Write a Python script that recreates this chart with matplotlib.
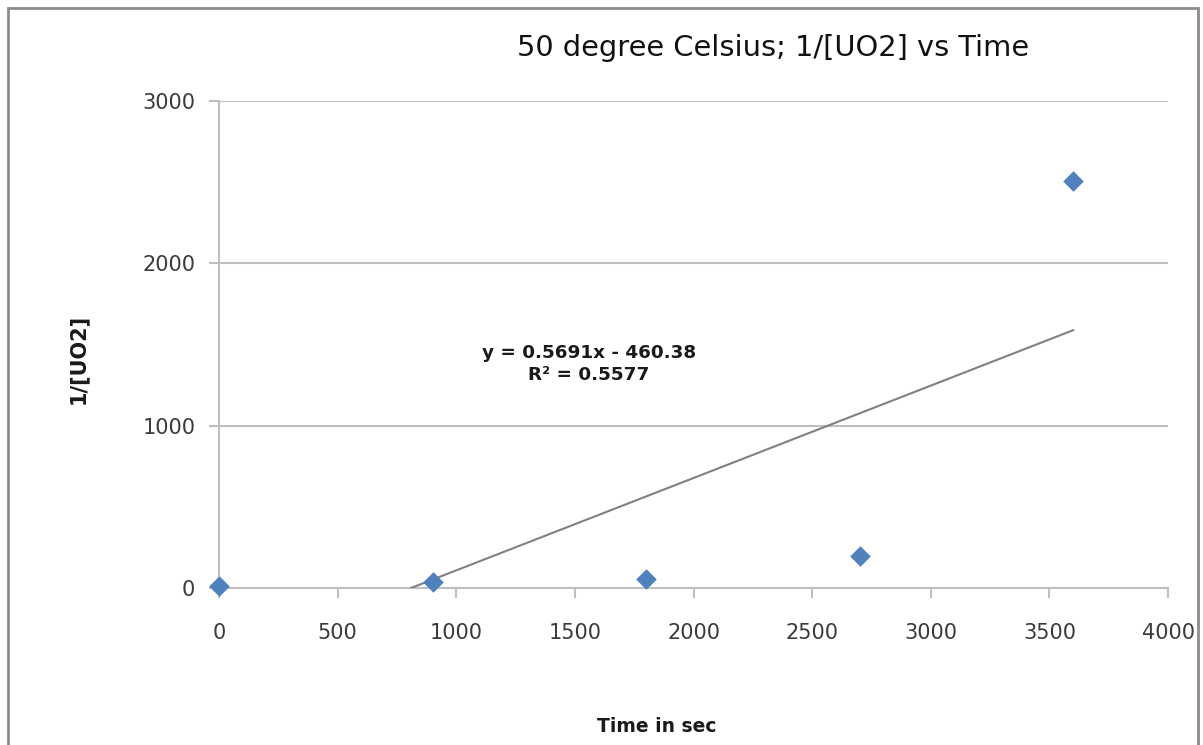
import numpy as np
import matplotlib
matplotlib.use("Agg")
import matplotlib.pyplot as plt
from matplotlib.patches import Rectangle

# data
time_s = [0, 900, 1800, 2700, 3600]
inv_uo2 = [10, 40, 55, 200, 2505]

# Excel linear trendline as labelled
slope = 0.5691
intercept = -460.38
r_squared = 0.5577

plt.rcParams["font.family"] = ["DejaVu Sans"]

fig = plt.figure(figsize=(12.03, 7.45), dpi=100)
ax = fig.add_axes([0.182, 0.2107, 0.789, 0.6537])

ax.scatter(time_s, inv_uo2, marker="D", s=110, color="#4F81BD", zorder=4,
           clip_on=False, linewidths=0)

x0 = -intercept / slope
xt = np.array([x0, time_s[-1]])
ax.plot(xt, slope * xt + intercept, color="#808080", linewidth=1.5, zorder=3)

sign = "-" if intercept < 0 else "+"
fig.text(589 / 1203, 1 - 364 / 745,
         f"y = {slope}x {sign} {abs(intercept):.2f}\nR² = {r_squared}",
         ha="center", va="center", fontsize=13.2, fontweight="bold",
         color="#1a1a1a", linespacing=1.35)

ax.set_xlim(0, 4000)
ax.set_ylim(0, 3000)
ax.set_xticks(np.arange(0, 4001, 500))
ax.set_yticks(np.arange(0, 3001, 1000))
ax.grid(True, axis="y", color="#BFBFBF", linewidth=1.5)
ax.set_axisbelow(True)
for side in ("top", "right"):
    ax.spines[side].set_visible(False)
for side in ("left", "bottom"):
    ax.spines[side].set_color("#BFBFBF")
    ax.spines[side].set_linewidth(1.5)
ax.tick_params(axis="both", colors="#BFBFBF", labelcolor="#3a3a3a",
               labelsize=15, length=7, width=1.5)
ax.tick_params(axis="x", pad=18)
ax.tick_params(axis="y", pad=10)

fig.text(773 / 1203, 1 - 48 / 745, "50 degree Celsius; 1/[UO2] vs Time",
         ha="center", va="center", fontsize=20.8, color="#111111")
fig.text(78 / 1203, 1 - 359 / 745, "1/[UO2]", rotation=90, ha="center",
         va="center", fontsize=15, fontweight="bold", color="#1a1a1a")
fig.text(657 / 1203, 1 - 726 / 745, "Time in sec", ha="center", va="center",
         fontsize=13.5, fontweight="bold", color="#1a1a1a")

fig.patches.append(Rectangle((8 / 1203, -0.05), 1190 / 1203, 1.05 - 8 / 745,
                             transform=fig.transFigure, fill=False,
                             edgecolor="#8C8C8C", linewidth=2))

fig.savefig("out.png", dpi=100)
